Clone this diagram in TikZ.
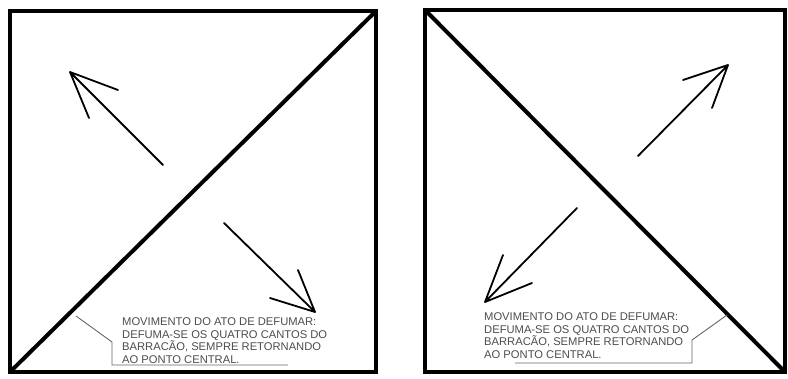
\documentclass[tikz,border=0pt]{standalone}
\usepackage{fontspec}
\setmainfont{Liberation Sans}
\begin{document}
\begin{tikzpicture}[x=1pt,y=-1pt,
  frame/.style={line width=4pt, line join=miter},
  diag/.style={line width=4pt},
  arr/.style={line width=1.8pt, line cap=round, line join=round},
  callout/.style={line width=0.9pt, draw=black!60},
  note/.style={anchor=north west, inner sep=0pt, align=left, text=black!70,
    font=\fontsize{11.2}{12.6}\selectfont}]
\useasboundingbox (0,0) rectangle (788,378);
% left panel
\coordinate (L1) at (10,11); \coordinate (L2) at (376,11);
\coordinate (L3) at (376,372); \coordinate (L4) at (10,372);
\draw[frame] (L1) -- (L2) -- (L3) -- (L4) -- cycle;
\draw[diag] (L4) -- (L2);
% arrows left
\coordinate (a1t) at (163,165); \coordinate (a1h) at (70,72);
\draw[arr] (a1t) -- (a1h) -- (118,90) (a1h) -- (89,118);
\coordinate (a2t) at (224,223); \coordinate (a2h) at (315,312);
\draw[arr] (a2t) -- (a2h) -- (298,270) (a2h) -- (270,298);
% left callout
\coordinate (c1a) at (76,316); \coordinate (c1b) at (112,342);
\coordinate (c1c) at (112,365); \coordinate (c1d) at (288,365);
\draw[callout] (c1a) -- (c1b) -- (c1c) -- (c1d);
\node[note] (t1) at (122,317.5) {MOVIMENTO DO ATO DE DEFUMAR:\\DEFUMA-SE OS QUATRO CANTOS DO\\BARRACÃO, SEMPRE RETORNANDO\\AO PONTO CENTRAL.};
% right panel
\coordinate (R1) at (425,10); \coordinate (R2) at (785,10);
\coordinate (R3) at (785,372); \coordinate (R4) at (425,372);
\draw[frame] (R1) -- (R2) -- (R3) -- (R4) -- cycle;
\draw[diag] (R1) -- (R3);
% arrows right
\coordinate (b1t) at (638,156); \coordinate (b1h) at (728,65);
\draw[arr] (b1t) -- (b1h) -- (683,80) (b1h) -- (712,108);
\coordinate (b2t) at (577,208); \coordinate (b2h) at (485,302);
\draw[arr] (b2t) -- (b2h) -- (503,255) (b2h) -- (532,283);
% right callout
\coordinate (c2a) at (727,315); \coordinate (c2b) at (692,340);
\coordinate (c2c) at (692,363); \coordinate (c2d) at (515,363);
\draw[callout] (c2a) -- (c2b) -- (c2c) -- (c2d);
\node[note] (t2) at (484,312.5) {MOVIMENTO DO ATO DE DEFUMAR:\\DEFUMA-SE OS QUATRO CANTOS DO\\BARRACÃO, SEMPRE RETORNANDO\\AO PONTO CENTRAL.};
\end{tikzpicture}
\end{document}
